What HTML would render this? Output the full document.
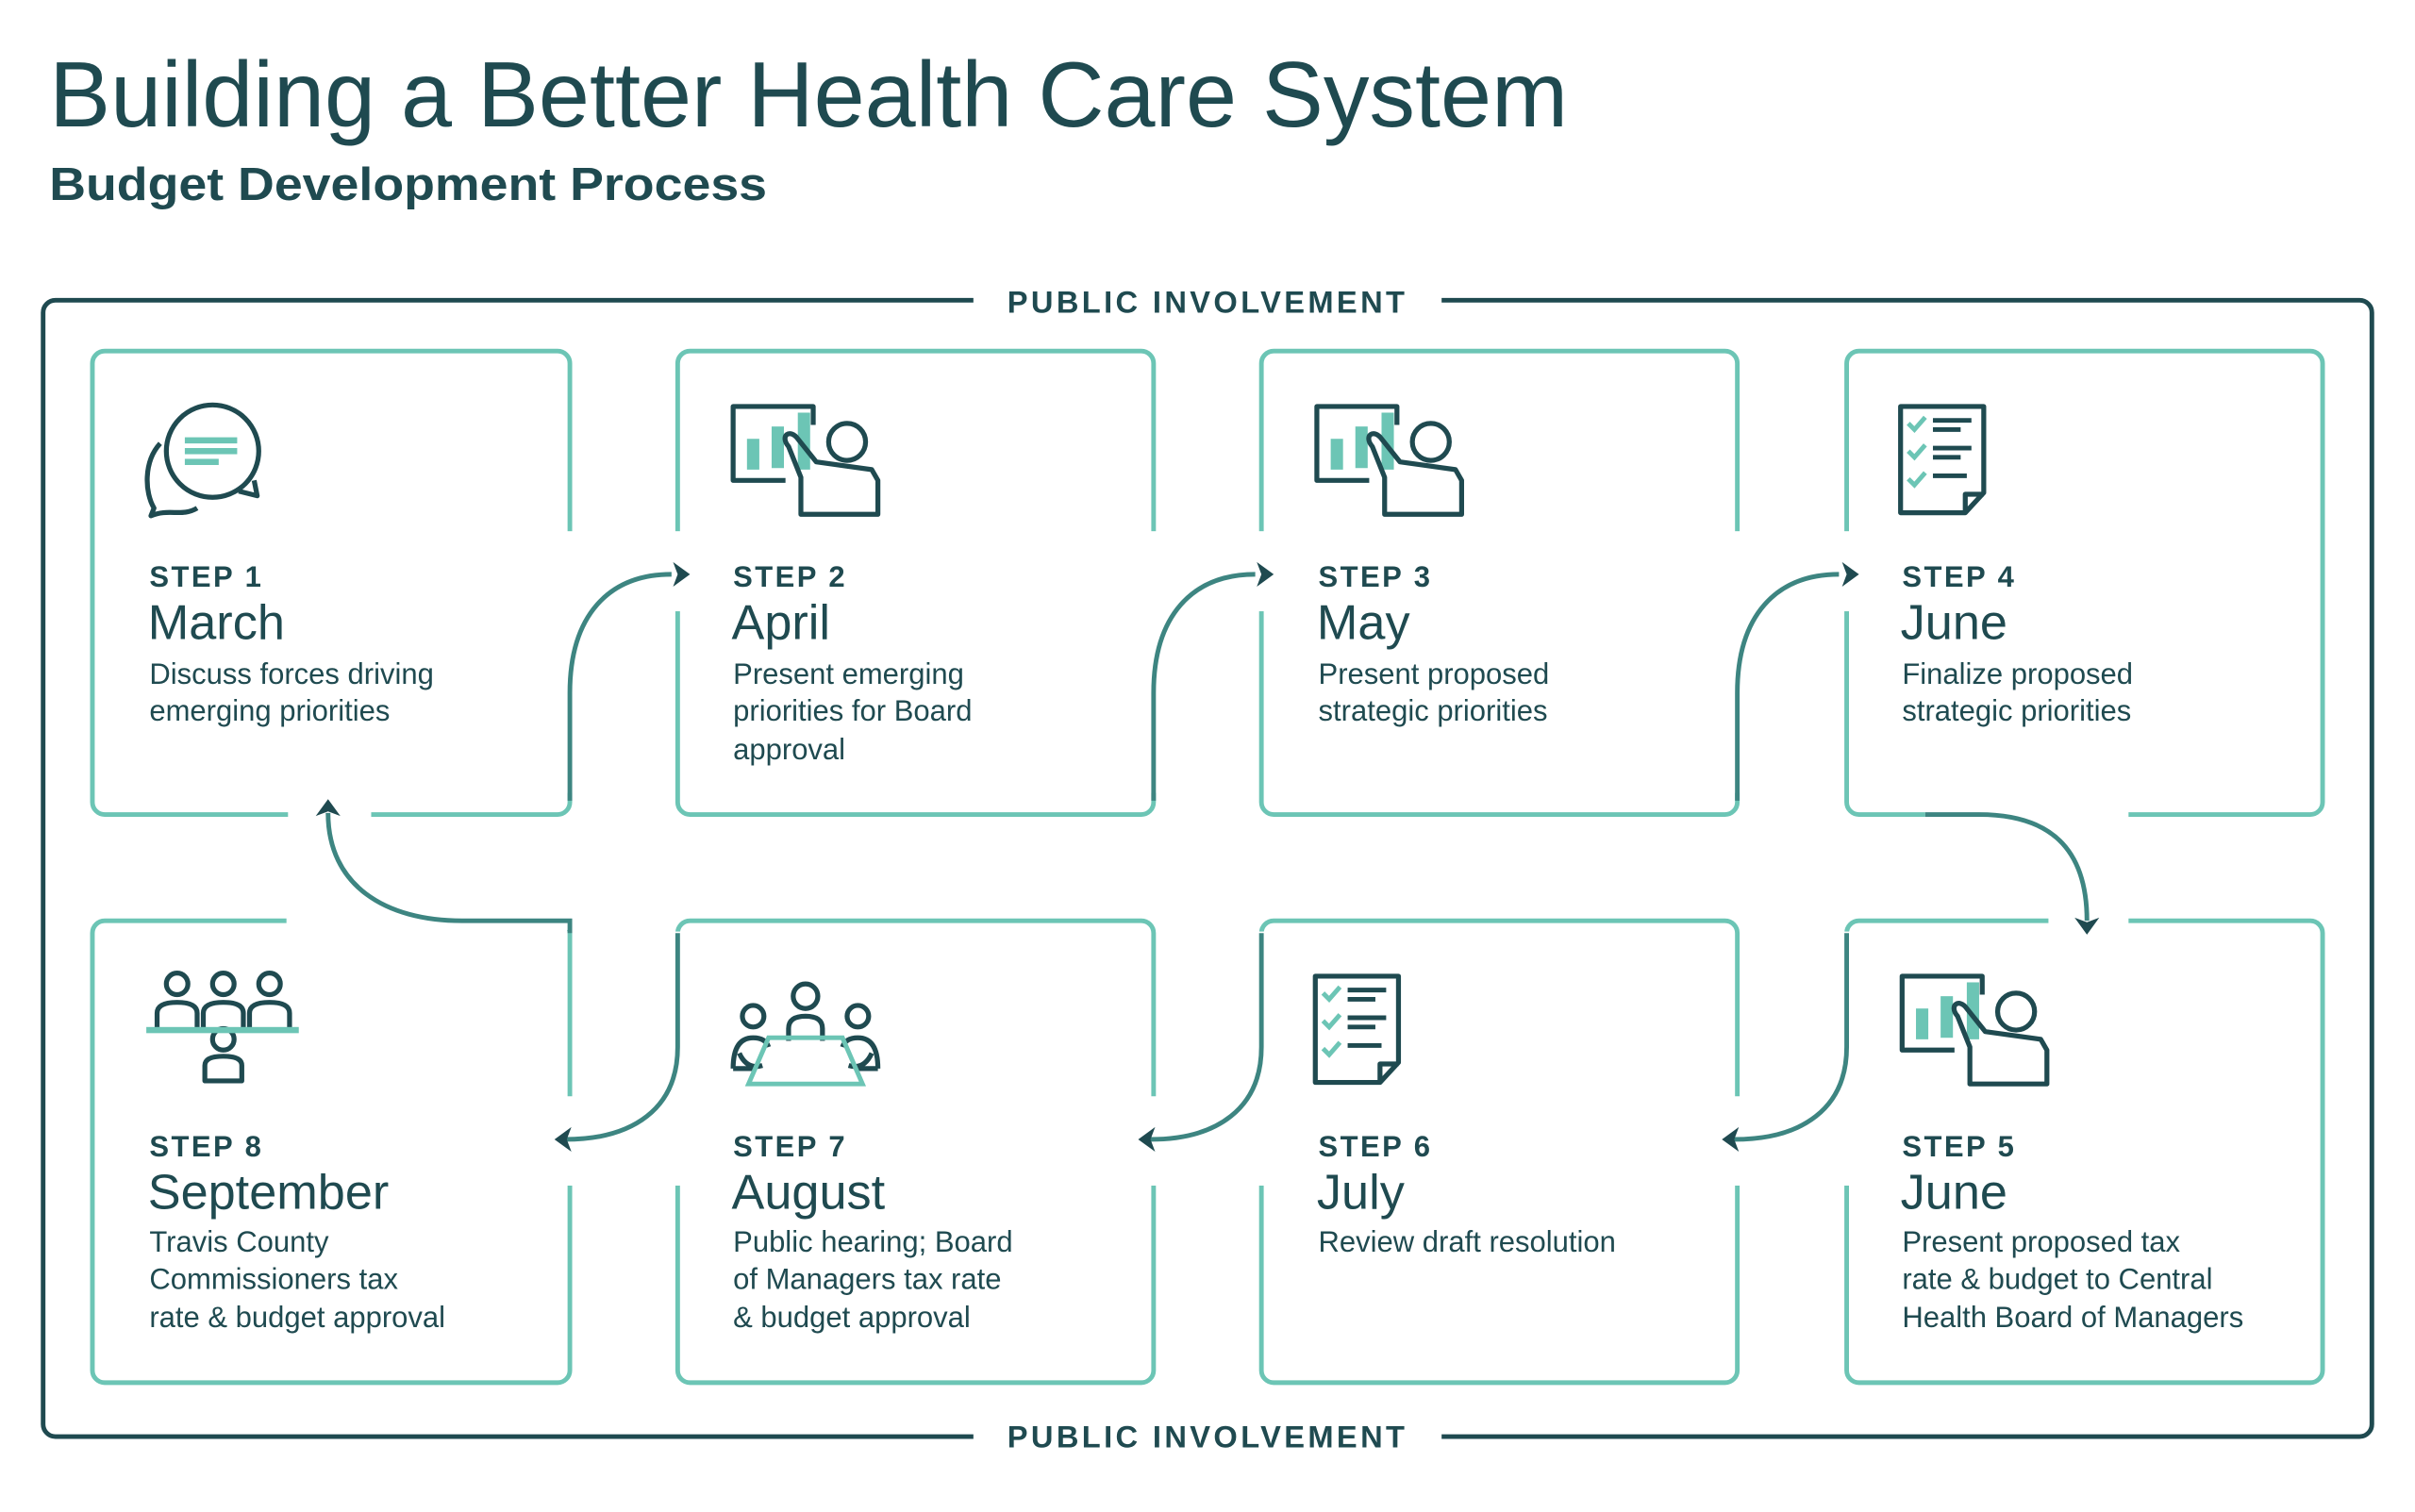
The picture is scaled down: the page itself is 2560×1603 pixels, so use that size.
<!DOCTYPE html>
<html><head><meta charset="utf-8"><style>
html,body{margin:0;padding:0;background:#fff}
svg{display:block}
text{font-family:"Liberation Sans",sans-serif;fill:#1f4a50}
.st{font-weight:bold;font-size:19px;letter-spacing:1.5px}
.mo{font-size:32px}
.de{font-size:19px}
.box{fill:none;stroke:#6cc5b5;stroke-width:3}
.con{fill:none;stroke:#3d8581;stroke-width:3}
.ic{fill:none;stroke:#1f4a50;stroke-width:3.2;stroke-linejoin:round}
.tl{fill:#6cc5b5}
</style></head><body>
<svg width="2560" height="1603" viewBox="0 0 1568 982" preserveAspectRatio="none" xmlns="http://www.w3.org/2000/svg">
<text x="32" y="82" textLength="986" lengthAdjust="spacingAndGlyphs" style="font-size:60px">Building a Better Health Care System</text>
<text x="32" y="130" textLength="466" lengthAdjust="spacingAndGlyphs" style="font-size:30px;font-weight:bold">Budget Development Process</text>

<rect x="28" y="195" width="1512" height="738" rx="8" fill="none" stroke="#1f4a50" stroke-width="3"/>
<rect x="632" y="185" width="304" height="20" fill="#fff"/>
<rect x="632" y="923" width="304" height="20" fill="#fff"/>
<text x="784" y="203" text-anchor="middle" textLength="260" style="font-size:20px;font-weight:bold;letter-spacing:2px">PUBLIC INVOLVEMENT</text>
<text x="784" y="940" text-anchor="middle" textLength="260" style="font-size:20px;font-weight:bold;letter-spacing:2px">PUBLIC INVOLVEMENT</text>

<g class="box">
<rect x="60" y="228" width="310" height="301" rx="8"/>
<rect x="440" y="228" width="309" height="301" rx="8"/>
<rect x="819" y="228" width="309" height="301" rx="8"/>
<rect x="1199" y="228" width="309" height="301" rx="8"/>
<rect x="60" y="598" width="310" height="300" rx="8"/>
<rect x="440" y="598" width="309" height="300" rx="8"/>
<rect x="819" y="598" width="309" height="300" rx="8"/>
<rect x="1199" y="598" width="309" height="300" rx="8"/>
</g>
<g fill="#fff">
<rect x="364" y="345" width="12" height="170"/><rect x="434" y="345" width="12" height="52"/>
<rect x="743" y="345" width="12" height="170"/><rect x="813" y="345" width="12" height="52"/>
<rect x="1122" y="345" width="12" height="170"/><rect x="1193" y="345" width="12" height="52"/>
<rect x="1250" y="523" width="132" height="12"/><rect x="1330" y="592" width="52" height="12"/>
<rect x="1193" y="605" width="12" height="165"/><rect x="1122" y="712" width="12" height="58"/>
<rect x="813" y="605" width="12" height="165"/><rect x="743" y="712" width="12" height="58"/>
<rect x="434" y="605" width="12" height="165"/><rect x="364" y="712" width="12" height="58"/>
<rect x="186" y="592" width="190" height="12"/><rect x="187" y="523" width="54" height="12"/>
</g>
<g class="con">
<path d="M370 520 L370 450 C370 400 395 373 436 373"/>
<path d="M749 520 L749 450 C749 400 774 373 815 373"/>
<path d="M1128 520 L1128 450 C1128 400 1153 373 1194 373"/>
<path d="M1250 529 L1285 529 C1330 529 1355 550 1355 598"/>
<path d="M1199 606 L1199 680 C1199 720 1170 740 1126 740"/>
<path d="M819 606 L819 680 C819 720 790 740 747 740"/>
<path d="M440 606 L440 680 C440 720 411 740 367 740"/>
<path d="M370 606 L370 598 L300 598 C250 598 213 575 213 528"/>
</g>
<g fill="#1f4a50">
<path d="M448 373 L437 365 L440 373 L437 381Z"/>
<path d="M827 373 L816 365 L819 373 L816 381Z"/>
<path d="M1207 373 L1196 365 L1199 373 L1196 381Z"/>
<path d="M1355 607 L1347 596 L1355 599 L1363 596Z"/>
<path d="M1118 740 L1129 732 L1126 740 L1129 748Z"/>
<path d="M739 740 L750 732 L747 740 L750 748Z"/>
<path d="M360 740 L371 732 L368 740 L371 748Z"/>
<path d="M213 519 L205 530 L213 527 L221 530Z"/>
</g>

<g class="ic">
<ellipse cx="138" cy="293" rx="30" ry="30"/>
<path d="M104 288 C93 300 94 320 100 330 L98 335 C110 330 118 336 128 330"/>
<path d="M165 312 L167 322 L155 319"/>
</g>
<g class="tl"><rect x="120" y="284" width="34" height="4"/><rect x="120" y="291" width="34" height="4"/><rect x="120" y="298" width="22" height="4"/></g>

<g id="pres">
<path class="ic" d="M510 312 L476 312 L476 264 L528 264 L528 276"/>
<rect class="tl" x="485" y="285" width="8" height="20"/><rect class="tl" x="501" y="277" width="8" height="27"/><rect class="tl" x="518" y="268" width="8" height="37"/>
<circle class="ic" cx="550" cy="287" r="12"/>
<path class="ic" d="M512 290 C506 283 513 278 518 285 L530 300 L566 305 L570 312 L570 334 L520 334 L520 310 Z"/>
</g>
<use href="#pres" x="379" y="0"/>
<use href="#pres" x="759" y="370"/>

<g id="chk">
<path class="ic" d="M1234 264 L1288 264 L1288 320 L1276 333 L1234 333 Z M1276 333 L1276 321 L1288 321"/>
<g stroke="#6cc5b5" stroke-width="3" fill="none"><path d="M1239 275 l4 4 l7 -8"/><path d="M1239 293 l4 4 l7 -8"/><path d="M1239 311 l4 4 l7 -8"/></g>
<g stroke="#1f4a50" stroke-width="3"><path d="M1255 273 h25 M1255 279 h18 M1255 291 h25 M1255 297 h18 M1255 309 h22"/></g>
</g>
<use href="#chk" x="-380" y="370"/>

<g class="ic">
<circle cx="115" cy="639" r="7"/><circle cx="145" cy="639" r="7"/><circle cx="175" cy="639" r="7"/>
<path d="M102 668 L102 658 Q102 651 115 651 Q128 651 128 658 L128 668"/>
<path d="M132 668 L132 658 Q132 651 145 651 Q158 651 158 658 L158 668"/>
<path d="M162 668 L162 658 Q162 651 175 651 Q188 651 188 658 L188 668"/>
<circle cx="145" cy="675" r="7"/>
<path d="M133 702 L133 692 Q133 686 145 686 Q157 686 157 692 L157 702 Z"/>
</g>
<rect class="tl" x="95" y="667" width="99" height="4"/>
<g class="ic">
<circle cx="523" cy="647" r="8"/><circle cx="489" cy="660" r="7"/><circle cx="557" cy="660" r="7"/>
<path d="M512 676 L512 668 Q512 660 523 660 Q534 660 534 668 L534 676"/>
<path d="M476 694 Q476 674 489 674 Q497 674 499 680 M476 694 L490 694 M480 684 Q485 695 495 692"/>
<path d="M570 694 Q570 674 557 674 Q549 674 547 680 M570 694 L556 694 M566 684 Q561 695 551 692"/>
</g>
<path d="M499 674 L547 674 L560 704 L486 704 Z" fill="none" stroke="#6cc5b5" stroke-width="3"/>

<text class="st" x="97" y="381">STEP 1</text><text class="mo" x="96" y="415">March</text>
<text class="de" x="97" y="444">Discuss forces driving</text><text class="de" x="97" y="468">emerging priorities</text>

<text class="st" x="476" y="381">STEP 2</text><text class="mo" x="475" y="415">April</text>
<text class="de" x="476" y="444">Present emerging</text><text class="de" x="476" y="468">priorities for Board</text><text class="de" x="476" y="493">approval</text>

<text class="st" x="856" y="381">STEP 3</text><text class="mo" x="855" y="415">May</text>
<text class="de" x="856" y="444">Present proposed</text><text class="de" x="856" y="468">strategic priorities</text>

<text class="st" x="1235" y="381">STEP 4</text><text class="mo" x="1234" y="415">June</text>
<text class="de" x="1235" y="444">Finalize proposed</text><text class="de" x="1235" y="468">strategic priorities</text>

<text class="st" x="97" y="751">STEP 8</text><text class="mo" x="96" y="785">September</text>
<text class="de" x="97" y="813">Travis County</text><text class="de" x="97" y="837">Commissioners tax</text><text class="de" x="97" y="862">rate &amp; budget approval</text>

<text class="st" x="476" y="751">STEP 7</text><text class="mo" x="475" y="785">August</text>
<text class="de" x="476" y="813">Public hearing; Board</text><text class="de" x="476" y="837">of Managers tax rate</text><text class="de" x="476" y="862">&amp; budget approval</text>

<text class="st" x="856" y="751">STEP 6</text><text class="mo" x="855" y="785">July</text>
<text class="de" x="856" y="813">Review draft resolution</text>

<text class="st" x="1235" y="751">STEP 5</text><text class="mo" x="1234" y="785">June</text>
<text class="de" x="1235" y="813">Present proposed tax</text><text class="de" x="1235" y="837">rate &amp; budget to Central</text><text class="de" x="1235" y="862">Health Board of Managers</text>
</svg>
</body></html>
